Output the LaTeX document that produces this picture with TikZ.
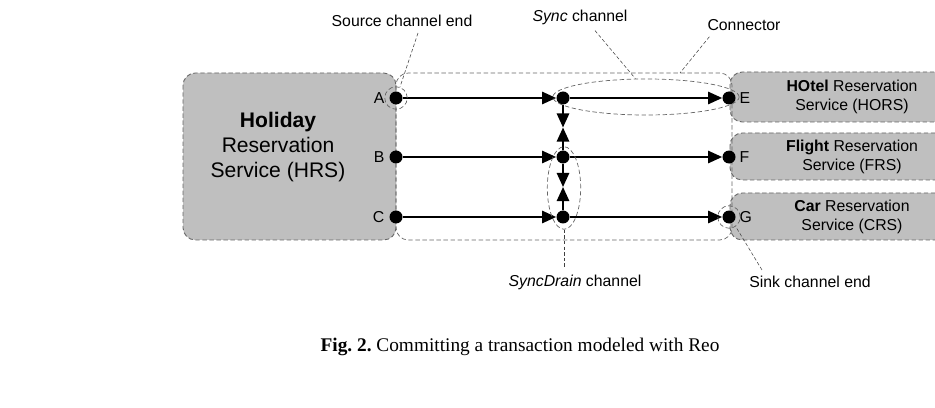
\documentclass[tikz,border=0pt]{standalone}
\usepackage{fontspec}
\setmainfont{Liberation Sans}
\newfontfamily\capfont{Liberation Serif}
\usetikzlibrary{arrows.meta,calc,shapes.geometric}

\begin{document}
\begin{tikzpicture}[x=0.02cm,y=-0.02cm,
  dot/.style={circle,fill,inner sep=0pt,minimum size=7.4pt},
  chan/.style={line width=1.1pt,-{Triangle[length=8pt,width=7pt]}},
  svc/.style={draw=black!60,dash pattern=on 2.5pt off 1.5pt,line width=0.5pt,fill=black!25,rounded corners=7pt},
  ring/.style={draw=black!60,dash pattern=on 2.5pt off 1.5pt,line width=0.4pt},
  lead/.style={black!75,dash pattern=on 2pt off 1.2pt,line width=0.3pt},
  lbl/.style={font=\fontsize{9}{11}\selectfont},
  svctext/.style={align=center,font=\fontsize{9}{10.6}\selectfont}]
 \clip (0,0) rectangle (935,408);

 % services and connector
 \draw[svc] (183,73) rectangle (396,240);
 \draw[svc] (730,72) rectangle (965,122);
 \draw[svc] (730,133) rectangle (965,180);
 \draw[svc] (730,193) rectangle (965,240);
 \draw[ring,rounded corners=7pt] (396,73) rectangle (732,240);

 \node[align=center,font=\fontsize{12}{14.2}\selectfont] (hrs) at (278,147) {\textbf{Holiday}\\Reservation\\Service (HRS)};
 \node[svctext] (hors) at (852,97) {\textbf{HOtel} Reservation\\Service (HORS)};
 \node[svctext] (frs) at (852,157) {\textbf{Flight} Reservation\\Service (FRS)};
 \node[svctext] (crs) at (852,217) {\textbf{Car} Reservation\\Service (CRS)};

 % channel ends and nodes
 \foreach \n/\x/\y in {A/396/98,B/396/157,C/396/217,mA/563/98,mB/563/157,mC/563/217,E/729/98,F/729/157,G/729/217}
  \node[dot] (\n) at (\x,\y) {};
 \foreach \n in {A,B,C}
  \node[lbl,left,inner sep=2.5pt] (l\n) at (\n.west) {\n};
 \foreach \n in {E,F,G}
  \node[lbl,right,inner sep=2pt] (l\n) at (\n.east) {\n};

 % sync channels
 \foreach \s/\t in {A/mA,mA/E,B/mB,mB/F,C/mC,mC/G}
  \draw[chan] (\s) -- (\t);
 % syncdrain channels
 \coordinate (d1) at ($(mA)!0.5!(mB)$);
 \coordinate (d2) at ($(mB)!0.5!(mC)$);
 \draw[chan] (mA) -- (d1);
 \draw[chan] (mB) -- (d1);
 \draw[chan] (mB) -- (d2);
 \draw[chan] (mC) -- (d2);

 % highlights
 \node[ring,circle,minimum size=12.8pt,inner sep=0pt] (srcring) at (A) {};
 \node[ring,circle,minimum size=12.8pt,inner sep=0pt] (sinkring) at (G) {};
 \node[ring,ellipse,minimum width=106pt,minimum height=20.5pt,inner sep=0pt] (syncring) at (646,97) {};
 \node[ring,ellipse,minimum width=19pt,minimum height=47pt,inner sep=0pt] (drainring) at (564,188) {};

 % annotations
 \node[lbl] (srclbl) at (402,21) {Source channel end};
 \node[lbl] (synclbl) at (580,17) {\textit{Sync} channel};
 \node[lbl] (connlbl) at (744,25) {Connector};
 \node[lbl] (drainlbl) at (575,282) {\textit{SyncDrain} channel};
 \node[lbl] (sinklbl) at (810,282) {Sink channel end};
 \coordinate (conntop) at (680,73);

 \draw[lead] ($(srclbl.south)+(16,0)$) -- (srcring.70);
 \draw[lead] ($(synclbl.south)+(15,0)$) -- (syncring.120);
 \draw[lead] ($(connlbl.south west)+(8,0)$) -- (conntop);
 \draw[lead] (drainring.south) -- (drainring.south |- drainlbl.north);
 \draw[lead] ($(sinklbl.north)+(-48,0)$) -- (sinkring.-55);

 \node[font=\capfont\fontsize{11}{13}\selectfont] (cap) at (520,347) {\frenchspacing\textbf{Fig. 2.} Committing a transaction modeled with Reo};
\end{tikzpicture}
\end{document}
